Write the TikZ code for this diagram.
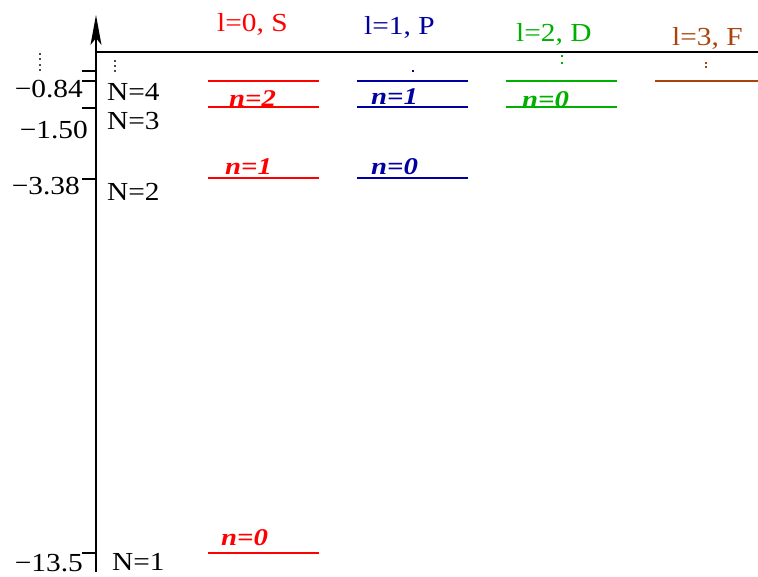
\documentclass[tikz,border=0pt]{standalone}
\usepackage{fontspec}
\usepackage{graphicx}
\setmainfont{Liberation Serif}
\usetikzlibrary{arrows.meta}
\definecolor{cS}{RGB}{255,0,0}
\definecolor{cP}{RGB}{0,0,160}
\definecolor{cD}{RGB}{0,176,0}
\definecolor{cF}{RGB}{170,68,10}
\newcommand\hsr[1]{\scalebox{1.13}[1]{#1}}
\newcommand\hsq[1]{\scalebox{1.2}[1]{#1}}
\tikzset{
  axisline/.style={line width=1.6pt, black},
  tickline/.style={line width=1.3pt, black},
  lev/.style={line width=2.8pt},
  head/.style={font=\fontsize{26}{28}\selectfont, inner sep=0pt, anchor=base west},
  ylab/.style={font=\fontsize{26}{28}\selectfont, inner sep=0pt, anchor=base east},
  nlab/.style={font=\fontsize{26}{28}\selectfont, inner sep=0pt, anchor=base west},
  qlab/.style={font=\fontsize{24}{26}\selectfont\bfseries\itshape, inner sep=0pt, anchor=base west},
  dotmark/.style={inner sep=0pt, minimum size=2.4pt, fill},
}
\begin{document}
\begin{tikzpicture}[x=1pt,y=-1pt]
\useasboundingbox (0,0) rectangle (758,576);
% axis
\coordinate (ax0) at (96,572);
\coordinate (ax1) at (96,15);
\draw[axisline, -{Stealth[length=30pt,width=11pt,inset=7pt]}] (ax0) -- (ax1);
\coordinate (h0) at (96,52);
\coordinate (h1) at (758,52);
\draw[axisline] (h0) -- (h1);
% ticks
\foreach \yy/\nm in {71/t5,81/t4,108/t3,179/t2,553/t1}{
  \coordinate (\nm a) at (82,\yy);
  \coordinate (\nm b) at (96,\yy);
  \draw[tickline] (\nm a) -- (\nm b);
}
% y labels
\node[ylab] (e4) at (83,97) {\hsr{−0.84}};
\node[ylab] (e3) at (88,138) {\hsr{−1.50}};
\node[ylab] (e2) at (80,194) {\hsr{−3.38}};
\node[ylab] (e1) at (83,571) {\hsr{−13.5}};
% N labels
\node[nlab] (N4) at (107,100) {\hsr{N=4}};
\node[nlab] (N3) at (107,129) {\hsr{N=3}};
\node[nlab] (N2) at (107,200) {\hsr{N=2}};
\node[nlab] (N1) at (112,570) {\hsr{N=1}};
% black dots
\foreach \yy [count=\i] in {54,59,65,70}{\node[dotmark, minimum size=1.3pt, fill=black!70] (bd\i) at (40,\yy) {};}
\foreach \yy [count=\i] in {61,66,71}{\node[dotmark, minimum size=1.3pt, fill=black!70] (be\i) at (115,\yy) {};}
% headers
\node[head, text=cS] (hS) at (217,31) {\hsr{l=0, S}};
\node[head, text=cP] (hP) at (364,34) {\hsr{l=1, P}};
\node[head, text=cD] (hD) at (516,41) {\hsr{l=2, D}};
\node[head, text=cF] (hF) at (672,45) {\hsr{l=3, F}};
% S levels
\foreach \yy/\nm in {81/s4,107/s3,178/s2,553/s1}{
  \coordinate (\nm a) at (208,\yy); \coordinate (\nm b) at (319,\yy);
  \draw[lev, cS] (\nm a) -- (\nm b);
}
\node[qlab, text=cS] (ls2) at (229,106) {\hsq{n=2}};
\node[qlab, text=cS] (ls1) at (225,174) {\hsq{n=1}};
\node[qlab, text=cS] (ls0) at (221,545) {\hsq{n=0}};
% P levels
\foreach \yy/\nm in {81/p4,107/p3,178/p2}{
  \coordinate (\nm a) at (357,\yy); \coordinate (\nm b) at (468,\yy);
  \draw[lev, cP] (\nm a) -- (\nm b);
}
\node[qlab, text=cP] (lp1) at (371,104) {\hsq{n=1}};
\node[qlab, text=cP] (lp0) at (371,174) {\hsq{n=0}};
\node[dotmark, fill=cP] (pd) at (413,71) {};
% D levels
\foreach \yy/\nm in {81/d4,107/d3}{
  \coordinate (\nm a) at (506,\yy); \coordinate (\nm b) at (617,\yy);
  \draw[lev, cD] (\nm a) -- (\nm b);
}
\node[qlab, text=cD] (ld0) at (522,107) {\hsq{n=0}};
\node[dotmark, fill=cD] (dd1) at (562,56) {};
\node[dotmark, fill=cD] (dd2) at (562,63) {};
% F levels
\coordinate (f4a) at (655,81); \coordinate (f4b) at (758,81);
\draw[lev, cF] (f4a) -- (f4b);
\node[dotmark, fill=cF] (fd1) at (706,63) {};
\node[dotmark, fill=cF] (fd2) at (706,67) {};
\end{tikzpicture}
\end{document}
